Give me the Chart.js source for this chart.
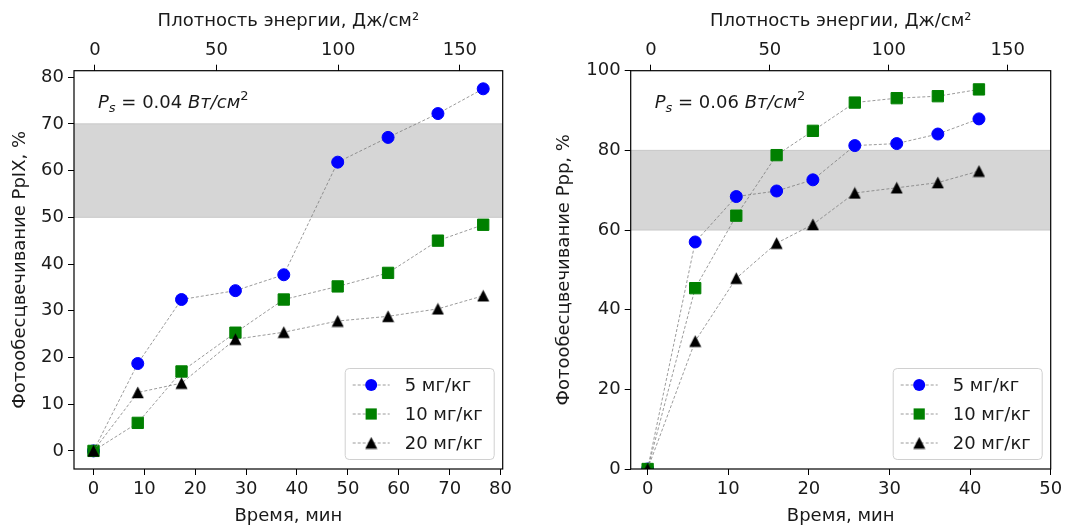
<!DOCTYPE html>
<html><head><meta charset="utf-8">
<script src="https://cdn.jsdelivr.net/npm/chart.js@4.4.1/dist/chart.umd.min.js"></script>
<style>
html,body{margin:0;padding:0;background:#fff;overflow:hidden;width:1075px;height:526px}
#a{position:absolute;left:0;top:0;width:537px;height:526px}
#b{position:absolute;left:537px;top:0;width:538px;height:526px}
</style></head><body>
<div id="a"><canvas id="c1"></canvas></div>
<div id="b"><canvas id="c2"></canvas></div>
<script>
// ---------------- data ----------------
const seriesLabels = ['5 мг/кг', '10 мг/кг', '20 мг/кг'];
const seriesColors = ['#0000ff', '#008000', '#000000'];

const timeLeft   = [0, 8.7, 17.3, 27.9, 37.4, 48.0, 57.9, 67.7, 76.6];
const leftDose5  = [0, 18.7, 32.4, 34.3, 37.7, 61.8, 67.1, 72.2, 77.5];
const leftDose10 = [0, 6.0, 17.0, 25.3, 32.4, 35.2, 38.1, 45.0, 48.4];
const leftDose20 = [0, 12.5, 14.5, 23.9, 25.4, 27.8, 28.8, 30.4, 33.2];

const timeRight   = [0, 5.9, 11.0, 16.0, 20.5, 25.7, 30.9, 36.0, 41.1];
const rightDose5  = [0, 57.0, 68.4, 69.8, 72.6, 81.2, 81.7, 84.1, 87.9];
const rightDose10 = [0, 45.4, 63.6, 78.8, 84.9, 92.0, 93.1, 93.6, 95.3];
const rightDose20 = [0, 32.1, 47.9, 56.7, 61.4, 69.3, 70.6, 71.9, 74.8];

const leftYTicks  = [0, 10, 20, 30, 40, 50, 60, 70, 80];
const rightYTicks = [0, 20, 40, 60, 80, 100];
const leftXTicks  = [0, 10, 20, 30, 40, 50, 60, 70, 80];
const rightXTicks = [0, 10, 20, 30, 40, 50];
const energyTicks = [0, 50, 100, 150];

const leftBand  = [50, 70];
const rightBand = [60, 80];
const leftPower  = '0.04';
const rightPower = '0.06';

const xTitle = 'Время, мин';
const topTitle = 'Плотность энергии, Дж/см²';
const leftYTitle = 'Фотообесцвечивание PpIX, %';
const rightYTitle = 'Фотообесцвечивание Ppp, %';

// ---------------- style ----------------
const FONT = '"DejaVu Sans"';
const FS = 18;
Chart.defaults.font.family = FONT;
Chart.defaults.font.size = FS;
Chart.defaults.color = '#1a1a1a';

function triangleImage(color) {
  const s = 13, c = document.createElement('canvas');
  c.width = s; c.height = s;
  const g = c.getContext('2d');
  g.fillStyle = color;
  g.beginPath();
  g.moveTo(s / 2, 0.5); g.lineTo(s - 0.5, s - 0.8); g.lineTo(0.5, s - 0.8); g.closePath();
  g.fill();
  return c;
}
const triImg = triangleImage('#000000');
const pointStyles = ['circle', 'rect', triImg];
const pointRadii = [6, 8, 6];

function makeDatasets(times, arrays) {
  return arrays.map((arr, i) => ({
    label: seriesLabels[i],
    data: times.map((t, k) => ({x: t, y: arr[k]})),
    borderColor: 'rgba(115,115,115,0.9)',
    borderWidth: 0.8,
    borderDash: [3, 2],
    backgroundColor: seriesColors[i],
    pointBackgroundColor: seriesColors[i],
    pointBorderColor: seriesColors[i],
    pointBorderWidth: 1,
    pointStyle: pointStyles[i],
    pointRadius: pointRadii[i],
    pointHoverRadius: pointRadii[i],
    tension: 0,
    fill: false,
    order: 3 - i
  }));
}

function fixedTicks(arr) {
  return function (scale) { scale.ticks = arr.map(v => ({value: v})); };
}

const bandPlugin = {
  id: 'band',
  beforeDatasetsDraw(chart, args, opts) {
    const {ctx, chartArea: a, scales: {y}} = chart;
    const y1 = y.getPixelForValue(opts.range[1]);
    const y0 = y.getPixelForValue(opts.range[0]);
    ctx.save();
    ctx.fillStyle = '#d6d6d6';
    ctx.fillRect(a.left, y1, a.right - a.left, y0 - y1);
    ctx.strokeStyle = '#c8c8c8';
    ctx.lineWidth = 1;
    ctx.beginPath();
    ctx.moveTo(a.left, y1); ctx.lineTo(a.right, y1);
    ctx.moveTo(a.left, y0); ctx.lineTo(a.right, y0);
    ctx.stroke();
    ctx.restore();
  }
};

const framePlugin = {
  id: 'frame',
  afterDatasetsDraw(chart) {
    const {ctx, chartArea: a} = chart;
    ctx.save();
    ctx.strokeStyle = '#000';
    ctx.lineWidth = 1.2;
    ctx.strokeRect(a.left, a.top, a.right - a.left, a.bottom - a.top);
    ctx.restore();
  }
};

const annotPlugin = {
  id: 'annot',
  afterDraw(chart, args, opts) {
    const {ctx, chartArea: a} = chart;
    let x = a.left + 24, y = a.top + 37;
    ctx.save();
    ctx.fillStyle = '#1a1a1a';
    ctx.textAlign = 'left';
    ctx.textBaseline = 'alphabetic';
    const put = (t, font, dy) => { ctx.font = font; ctx.fillText(t, x, y + dy); x += ctx.measureText(t).width; };
    put('P', 'italic 18px ' + FONT, 0);
    put('s', 'italic 13px ' + FONT, 4);
    put(' = ' + opts.value + ' ', '18px ' + FONT, 0);
    put('Вт/см', 'italic 18px ' + FONT, 0);
    put('2', '13px ' + FONT, -8);
    ctx.restore();
  }
};

function drawMarker(ctx, i, x, y) {
  const c = seriesColors[i];
  ctx.fillStyle = c;
  if (i === 0) {
    ctx.beginPath(); ctx.arc(x, y, 6, 0, Math.PI * 2); ctx.fill();
  } else if (i === 1) {
    ctx.fillRect(x - 5.6, y - 5.6, 11.2, 11.2);
  } else {
    ctx.drawImage(triImg, x - triImg.width / 2, y - triImg.height / 2);
  }
}

const legendPlugin = {
  id: 'mlegend',
  afterDraw(chart) {
    const {ctx, chartArea: a} = chart;
    const w = 149, h = 91;
    const right = a.right - 9, bottom = a.bottom - 10;
    const left = right - w, top = bottom - h;
    ctx.save();
    ctx.beginPath();
    ctx.roundRect(left + 0.5, top + 0.5, w, h, 4);
    ctx.fillStyle = 'rgba(255,255,255,0.85)';
    ctx.fill();
    ctx.strokeStyle = '#d0d0d0';
    ctx.lineWidth = 1;
    ctx.stroke();
    chart.data.datasets.forEach((ds, i) => {
      const yy = top + 17 + i * 29;
      ctx.strokeStyle = 'rgba(115,115,115,0.9)';
      ctx.lineWidth = 0.8;
      ctx.setLineDash([3, 2]);
      ctx.beginPath(); ctx.moveTo(left + 8, yy); ctx.lineTo(left + 45, yy); ctx.stroke();
      ctx.setLineDash([]);
      drawMarker(ctx, i, left + 26.5, yy);
      ctx.fillStyle = '#1a1a1a';
      ctx.font = FS + 'px ' + FONT;
      ctx.textAlign = 'left';
      ctx.textBaseline = 'middle';
      ctx.fillText(ds.label, left + 60, yy + 1);
    });
    ctx.restore();
  }
};

function makeChart(id, cfg) {
  const tickGrid = {display: true, drawOnChartArea: false, drawTicks: true, tickLength: 6, color: '#000', lineWidth: 1};
  return new Chart(document.getElementById(id), {
    type: 'line',
    data: {datasets: makeDatasets(cfg.times, cfg.series)},
    plugins: [bandPlugin, framePlugin, annotPlugin, legendPlugin],
    options: {
      responsive: true,
      maintainAspectRatio: false,
      animation: false,
      events: [],
      layout: {padding: {left: 0, right: cfg.padRight, top: 0, bottom: 0}},
      plugins: {
        legend: {display: false},
        tooltip: {enabled: false},
        band: {range: cfg.band},
        annot: {value: cfg.power}
      },
      scales: {
        x: {
          type: 'linear', position: 'bottom', min: cfg.xmin, max: cfg.xmax,
          afterBuildTicks: fixedTicks(cfg.xTicks),
          afterFit: s => { s.height = 526 - 469; },
          grid: tickGrid, border: {display: false},
          ticks: {padding: 4, maxRotation: 0, autoSkip: false, callback: v => String(v)},
          title: {display: true, text: xTitle, padding: {top: 0, bottom: -1}}
        },
        x2: {
          type: 'linear', position: 'top', min: cfg.emin, max: cfg.emax,
          afterBuildTicks: fixedTicks(energyTicks),
          afterFit: s => { s.height = 70.7; },
          grid: tickGrid, border: {display: false},
          ticks: {padding: 4, maxRotation: 0, autoSkip: false, callback: v => String(v)},
          title: {display: true, text: topTitle, padding: {top: 10.5, bottom: 0}}
        },
        y: {
          type: 'linear', position: 'left', min: cfg.ymin, max: cfg.ymax,
          afterBuildTicks: fixedTicks(cfg.yTicks),
          afterFit: s => { s.width = cfg.yWidth; },
          grid: tickGrid, border: {display: false},
          ticks: {padding: 4, autoSkip: false, callback: v => String(v)},
          title: {display: true, text: cfg.yTitle, padding: {top: cfg.yTitlePad, bottom: 0}}
        }
      }
    }
  });
}

makeChart('c1', {
  times: timeLeft, series: [leftDose5, leftDose10, leftDose20],
  xmin: -3.83, xmax: 80.43, ymin: -3.875, ymax: 81.375, emin: -8.6, emax: 167.6,
  xTicks: leftXTicks, yTicks: leftYTicks, band: leftBand, power: leftPower,
  yTitle: leftYTitle, yWidth: 74, padRight: 537 - 502.7, yTitlePad: 10
});
makeChart('c2', {
  times: timeRight, series: [rightDose5, rightDose10, rightDose20],
  xmin: -2.1, xmax: 50, ymin: 0, ymax: 100, emin: -8.5, emax: 168.1,
  xTicks: rightXTicks, yTicks: rightYTicks, band: rightBand, power: rightPower,
  yTitle: rightYTitle, yWidth: 630.7 - 537, padRight: 538 - (1050.7 - 537), yTitlePad: 17
});
</script>
</body></html>
